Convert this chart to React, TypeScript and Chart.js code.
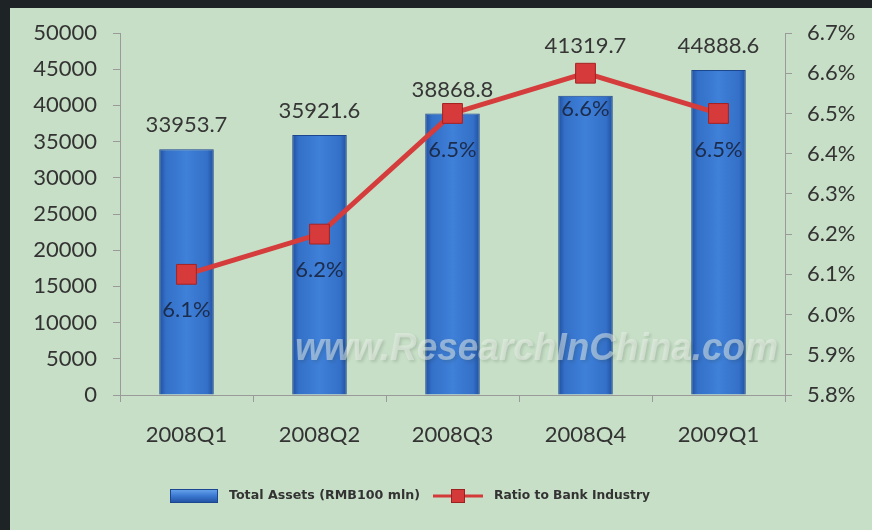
import React, { useEffect, useRef } from 'react';
import { Chart, registerables } from 'chart.js';

Chart.register(...registerables);

const categories = ['2008Q1', '2008Q2', '2008Q3', '2008Q4', '2009Q1'];
const totalAssets = [33953.7, 35921.6, 38868.8, 41319.7, 44888.6];
const ratioToBank = [6.1, 6.2, 6.5, 6.6, 6.5];
const leftAxis = { min: 0, max: 50000, step: 5000 };
const rightAxis = { min: 5.8, max: 6.7, step: 0.1 };
const assetsLabel = 'Total Assets (RMB100 mln)';
const ratioLabel = 'Ratio to Bank Industry';
const watermarkText = 'www.ResearchInChina.com';

const FONT = 'Lato, "Open Sans", sans-serif';
const AXIS_COLOR = '#9a9a9a';

const barGradientPlugin = {
  id: 'barGradient',
  beforeDatasetsDraw(chart: any) {
    const ctx = chart.ctx;
    const meta = chart.getDatasetMeta(0);
    meta.data.forEach((el: any) => {
      const half = el.width / 2;
      const g = ctx.createLinearGradient(el.x - half, 0, el.x + half, 0);
      g.addColorStop(0, '#1f4f9e');
      g.addColorStop(0.12, '#3470c8');
      g.addColorStop(0.5, '#3f80d8');
      g.addColorStop(0.88, '#3470c8');
      g.addColorStop(1, '#1f4f9e');
      el.options = Object.assign({}, el.options, { backgroundColor: g });
    });
  },
};

const labelsPlugin = {
  id: 'labelsAndExtras',
  afterDatasetsDraw(chart: any) {
    const ctx = chart.ctx;
    // watermark
    ctx.save();
    ctx.font = 'italic bold 38px "Liberation Sans", Arial, sans-serif';
    ctx.textBaseline = 'alphabetic';
    ctx.textAlign = 'left';
    ctx.shadowColor = 'rgba(40,60,40,0.3)';
    ctx.shadowOffsetX = 2;
    ctx.shadowOffsetY = 2;
    ctx.shadowBlur = 3;
    ctx.fillStyle = 'rgba(235,242,235,0.5)';
    const w = ctx.measureText(watermarkText).width;
    const target = 483;
    ctx.translate(285, 352);
    ctx.scale(target / w, 1);
    ctx.fillText(watermarkText, 0, 0);
    ctx.restore();

    // bar value labels
    ctx.save();
    ctx.font = `22px ${FONT}`;
    ctx.textAlign = 'center';
    ctx.textBaseline = 'middle';
    ctx.fillStyle = '#363636';
    const barMeta = chart.getDatasetMeta(0);
    const lineMeta = chart.getDatasetMeta(1);
    barMeta.data.forEach((el: any, i: number) => {
      let y = el.y - 24;
      const pt = lineMeta.data[i];
      if (pt && Math.abs(y - pt.y) < 20) y = pt.y - 27;
      ctx.fillText(totalAssets[i].toFixed(1), el.x, y);
    });
    // ratio labels
    ctx.fillStyle = '#1c2c4c';
    lineMeta.data.forEach((el: any, i: number) => {
      ctx.fillText(ratioToBank[i].toFixed(1) + '%', el.x, el.y + 36);
    });
    ctx.restore();
  },
  afterDraw(chart: any) {
    const ctx = chart.ctx;
    ctx.save();
    const ly = 488;
    // bar legend box
    const g = ctx.createLinearGradient(0, ly - 7, 0, ly + 7);
    g.addColorStop(0, '#6aa6ee');
    g.addColorStop(0.5, '#3a78d0');
    g.addColorStop(1, '#1f4f9e');
    ctx.fillStyle = g;
    ctx.fillRect(160, ly - 7, 48, 14);
    ctx.strokeStyle = '#1d4690';
    ctx.lineWidth = 1;
    ctx.strokeRect(160.5, ly - 6.5, 47, 13);
    ctx.font = 'bold 12px "DejaVu Sans", sans-serif';
    ctx.fillStyle = '#333333';
    ctx.textBaseline = 'middle';
    ctx.textAlign = 'left';
    const t1 = ctx.measureText(assetsLabel).width;
    ctx.save();
    ctx.translate(219, ly);
    ctx.scale(191 / t1, 1);
    ctx.fillText(assetsLabel, 0, 0);
    ctx.restore();
    // line legend
    ctx.strokeStyle = '#d33b3b';
    ctx.lineWidth = 3;
    ctx.beginPath();
    ctx.moveTo(423, ly);
    ctx.lineTo(473, ly);
    ctx.stroke();
    ctx.fillStyle = '#d43a3a';
    ctx.fillRect(441, ly - 7, 14, 14);
    ctx.strokeStyle = '#a02020';
    ctx.lineWidth = 1;
    ctx.strokeRect(441.5, ly - 6.5, 13, 13);
    ctx.fillStyle = '#333333';
    const t2 = ctx.measureText(ratioLabel).width;
    ctx.translate(484, ly);
    ctx.scale(156 / t2, 1);
    ctx.fillText(ratioLabel, 0, 0);
    ctx.restore();
  },
};

export default function App() {
  const ref = useRef<HTMLCanvasElement | null>(null);

  useEffect(() => {
    const canvas = ref.current;
    if (!canvas) return;
    const chart = new Chart(canvas, {
      type: 'bar',
      data: {
        labels: categories,
        datasets: [
          {
            type: 'bar',
            label: assetsLabel,
            data: totalAssets,
            yAxisID: 'y',
            backgroundColor: () => '#3a78d0',
            borderColor: '#1d4690',
            borderWidth: 1,
            barPercentage: 0.82,
            categoryPercentage: 0.5,
            order: 1,
          },
          {
            type: 'line',
            label: ratioLabel,
            data: ratioToBank,
            yAxisID: 'y1',
            borderColor: '#d53c3c',
            borderWidth: 5,
            pointStyle: 'rect',
            pointRadius: 14,
            pointBackgroundColor: '#d63a3a',
            pointBorderColor: '#a52222',
            pointBorderWidth: 1,
            tension: 0,
            order: 0,
          },
        ],
      },
      options: {
        animation: false,
        responsive: false,
        maintainAspectRatio: false,
        layout: { padding: { top: 25, left: 0, right: 0, bottom: 0 } },
        plugins: {
          legend: { display: false },
          tooltip: { enabled: false },
        },
        scales: {
          x: {
            offset: true,
            grid: {
              offset: true,
              drawOnChartArea: false,
              drawTicks: true,
              tickLength: 7,
              color: AXIS_COLOR,
            },
            border: { display: true, color: AXIS_COLOR, width: 1 },
            ticks: {
              font: { family: FONT, size: 22 },
              color: '#333333',
              padding: 20,
              maxRotation: 0,
            },
            afterFit(scale: any) {
              scale.height = 135;
            },
          },
          y: {
            position: 'left',
            min: leftAxis.min,
            max: leftAxis.max,
            grid: {
              drawOnChartArea: false,
              drawTicks: true,
              tickLength: 7,
              color: AXIS_COLOR,
            },
            border: { display: true, color: AXIS_COLOR, width: 1 },
            ticks: {
              stepSize: leftAxis.step,
              font: { family: FONT, size: 22 },
              color: '#333333',
              padding: 16,
              callback: (v: any) => String(v),
            },
            afterFit(scale: any) {
              scale.width = 110;
              scale.paddingTop = 0;
              scale.paddingBottom = 0;
            },
          },
          y1: {
            position: 'right',
            min: rightAxis.min,
            max: rightAxis.max,
            grid: {
              drawOnChartArea: false,
              drawTicks: true,
              tickLength: 7,
              color: AXIS_COLOR,
            },
            border: { display: true, color: AXIS_COLOR, width: 1 },
            ticks: {
              stepSize: rightAxis.step,
              font: { family: FONT, size: 22 },
              color: '#333333',
              padding: 15,
              callback: (v: any) => Number(v).toFixed(1) + '%',
            },
            afterFit(scale: any) {
              scale.width = 87;
              scale.paddingTop = 0;
              scale.paddingBottom = 0;
            },
          },
        },
      },
      plugins: [barGradientPlugin, labelsPlugin],
    });
    return () => chart.destroy();
  }, []);

  return (
    <div
      style={{
        position: 'fixed',
        left: 0,
        top: 0,
        width: 872,
        height: 530,
        background: '#1e2326',
        overflow: 'hidden',
      }}
    >
      <div
        style={{
          position: 'absolute',
          left: 10,
          top: 8,
          width: 862,
          height: 522,
          background: '#c7dfc6',
        }}
      >
        <canvas ref={ref} width={862} height={522} style={{ display: 'block', width: 862, height: 522 }} />
      </div>
    </div>
  );
}
